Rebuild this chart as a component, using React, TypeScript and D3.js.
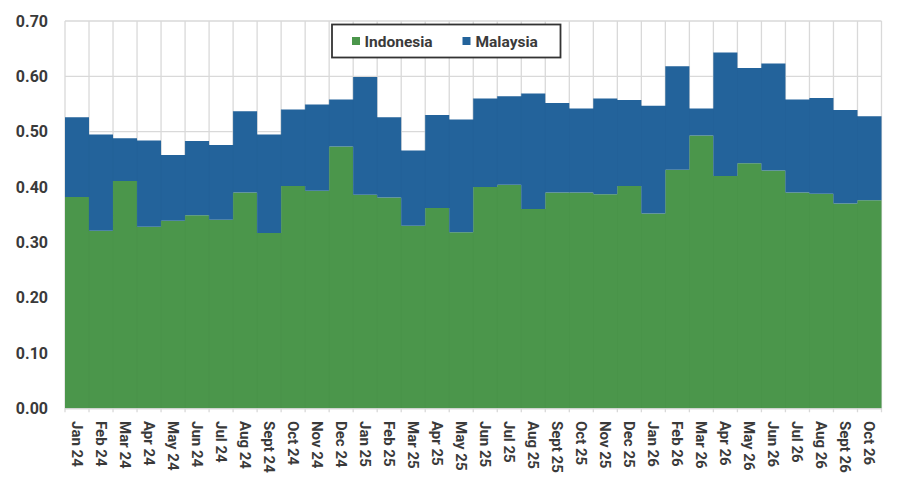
import React from "react";
import * as d3 from "d3";

const categories = [
  "Jan 24", "Feb 24", "Mar 24", "Apr 24", "May 24", "Jun 24", "Jul 24", "Aug 24", "Sept 24", "Oct 24", "Nov 24", "Dec 24",
  "Jan 25", "Feb 25", "Mar 25", "Apr 25", "May 25", "Jun 25", "Jul 25", "Aug 25", "Sept 25", "Oct 25", "Nov 25", "Dec 25",
  "Jan 26", "Feb 26", "Mar 26", "Apr 26", "May 26", "Jun 26", "Jul 26", "Aug 26", "Sept 26", "Oct 26",
];

const indonesia = [
  0.382, 0.321, 0.411, 0.328, 0.339, 0.349, 0.341, 0.390, 0.317, 0.402, 0.393, 0.473,
  0.386, 0.381, 0.330, 0.362, 0.318, 0.400, 0.404, 0.360, 0.390, 0.390, 0.387, 0.402,
  0.352, 0.431, 0.493, 0.420, 0.443, 0.430, 0.390, 0.388, 0.370, 0.376,
];

const malaysia = [
  0.144, 0.174, 0.077, 0.156, 0.119, 0.134, 0.135, 0.147, 0.178, 0.138, 0.156, 0.085,
  0.213, 0.145, 0.136, 0.168, 0.204, 0.160, 0.160, 0.209, 0.162, 0.152, 0.173, 0.155,
  0.195, 0.187, 0.049, 0.223, 0.172, 0.193, 0.168, 0.173, 0.169, 0.152,
];

const yTicks = [0, 0.1, 0.2, 0.3, 0.4, 0.5, 0.6, 0.7];
const seriesNames = ["Indonesia", "Malaysia"];
const seriesColors = ["#4b964b", "#23639b"];

const W = 903;
const H = 496;
const left = 65;
const right = 881.5;
const top = 21;
const bottom = 408.3;
const FONT = "Roboto, 'Liberation Sans', Arial, sans-serif";
const TEXT = "#3a3a3a";
const GRID = "#d9d9d9";

export default function App() {
  const x = d3.scaleBand<string>().domain(categories).range([left, right]).padding(0);
  const y = d3.scaleLinear().domain([0, 0.7]).range([bottom, top]);

  const rows = categories.map((c, i) => ({ cat: c, Indonesia: indonesia[i], Malaysia: malaysia[i] }));
  const stacked = d3.stack<any>().keys(seriesNames)(rows);

  const area = d3
    .area<[number, number]>()
    .curve(d3.curveStepAfter)
    .x((_, i) => (i < categories.length ? (x(categories[i]) as number) : right))
    .y0((d) => y(d[0]))
    .y1((d) => y(d[1]));

  const bw = x.bandwidth();

  return (
    <div style={{ position: "fixed", left: 0, top: 0, width: W, height: H, background: "#fff" }}>
      <svg width={W} height={H} style={{ display: "block" }}>
        {/* gridlines */}
        {yTicks.map((t) => (
          <line key={"h" + t} x1={left} x2={right} y1={y(t)} y2={y(t)} stroke={GRID} strokeWidth={1.3} />
        ))}
        {categories.map((c) => (
          <line key={"v" + c} x1={x(c)} x2={x(c)} y1={top} y2={bottom + 4} stroke={GRID} strokeWidth={1.3} />
        ))}
        <line x1={right} x2={right} y1={top} y2={bottom + 4} stroke={GRID} strokeWidth={1.3} />

        {/* stacked step areas */}
        {stacked.map((s, si) => {
          const pts = s.map((d) => [d[0], d[1]] as [number, number]);
          pts.push(pts[pts.length - 1]);
          return <path key={seriesNames[si]} d={area(pts) || ""} fill={seriesColors[si]} />;
        })}

        {/* subtle seams at category boundaries */}
        {stacked.map((s, si) =>
          s.map((d, i) =>
            i === 0 ? null : (
              <line
                key={"s" + si + i}
                x1={x(categories[i])}
                x2={x(categories[i])}
                y1={y(d[1])}
                y2={y(d[0])}
                stroke={si === 0 ? "#468f46" : "#215e94"}
                strokeWidth={0.6}
                opacity={0.35}
              />
            )
          )
        )}

        {/* x baseline */}
        <line x1={left} x2={right} y1={bottom + 0.5} y2={bottom + 0.5} stroke={GRID} strokeWidth={1.3} />

        {/* y labels */}
        {yTicks.map((t) => (
          <text
            key={"yl" + t}
            x={48}
            y={y(t)}
            dy="0.36em"
            textAnchor="end"
            fontFamily={FONT}
            fontWeight={700}
            fontSize={16}
            fill={TEXT}
          >
            {t.toFixed(2)}
          </text>
        ))}

        {/* x labels */}
        {categories.map((c) => {
          const cx = (x(c) as number) + bw / 2;
          return (
            <text
              key={"xl" + c}
              transform={`translate(${cx},${421}) rotate(90)`}
              dy="0.36em"
              textAnchor="start"
              fontFamily={FONT}
              fontWeight={700}
              fontSize={15}
              fill={TEXT}
            >
              {c}
            </text>
          );
        })}

        {/* legend */}
        <rect x={332} y={24.5} width={228.5} height={33} fill="#fff" stroke="#333" strokeWidth={1.8} />
        <rect x={352} y={37} width={8} height={8} fill={seriesColors[0]} />
        <text x={364.5} y={41} dy="0.36em" fontFamily={FONT} fontWeight={700} fontSize={15.5} fill={TEXT}>
          {seriesNames[0]}
        </text>
        <rect x={462.5} y={37} width={8} height={8} fill={seriesColors[1]} />
        <text x={475.5} y={41} dy="0.36em" fontFamily={FONT} fontWeight={700} fontSize={15.5} fill={TEXT}>
          {seriesNames[1]}
        </text>
      </svg>
    </div>
  );
}
